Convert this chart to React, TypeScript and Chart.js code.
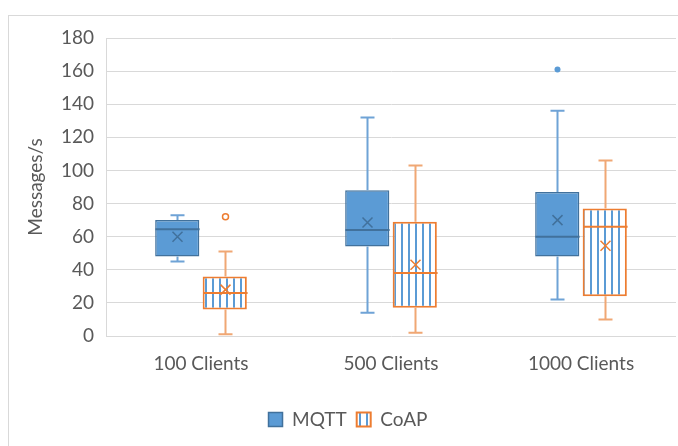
import React, { useEffect, useRef } from "react";
import { Chart, registerables } from "chart.js";
Chart.register(...registerables);

const categories = ["100 Clients", "500 Clients", "1000 Clients"];
const seriesNames = ["MQTT", "CoAP"];

const mqttMin = [45, 14, 22];
const mqttQ1 = [48, 54, 48];
const mqttMedian = [64.5, 64, 60];
const mqttQ3 = [70, 88, 87];
const mqttMax = [73, 132, 136];
const mqttMean = [60, 68.5, 70];
const mqttOutliers: number[][] = [[], [], [161]];

const coapMin = [1, 2, 10];
const coapQ1 = [16, 17, 24];
const coapMedian = [26, 38, 66];
const coapQ3 = [36, 69, 77];
const coapMax = [51, 103, 106];
const coapMean = [28, 43, 54.5];
const coapOutliers: number[][] = [[72], [], []];

const yMin = 0;
const yMax = 180;
const yStep = 20;

const BLUE = "#5B9BD5";
const BLUE_DARK = "#41719C";
const BLUE_WHISKER = "#6FA3D6";
const ORANGE = "#ED7D31";
const ORANGE_WHISKER = "#F0A774";
const FONT = "Lato, 'Open Sans', sans-serif";
const TEXT = "#595959";
const FS = 19;

const stats = [
  { min: mqttMin, max: mqttMax, med: mqttMedian, mean: mqttMean, out: mqttOutliers, line: BLUE_WHISKER, dark: BLUE_DARK, filled: true },
  { min: coapMin, max: coapMax, med: coapMedian, mean: coapMean, out: coapOutliers, line: ORANGE_WHISKER, dark: ORANGE, filled: false },
];

const boxPlugin = {
  id: "boxExtras",
  beforeDraw(chart: any) {
    const ctx = chart.ctx;
    ctx.save();
    ctx.strokeStyle = "#d9d9d9";
    ctx.lineWidth = 1;
    ctx.strokeRect(8.5, 15.5, 800, 600);
    ctx.restore();
  },
  afterDatasetsDraw(chart: any) {
    const ctx = chart.ctx;
    const ys = chart.scales.y;
    stats.forEach((s, d) => {
      const meta = chart.getDatasetMeta(d);
      meta.data.forEach((bar: any, i: number) => {
        const x = Math.round(bar.x) + 0.5;
        const w = bar.width;
        const top = ys.getPixelForValue((d === 0 ? mqttQ3 : coapQ3)[i]);
        const bot = ys.getPixelForValue((d === 0 ? mqttQ1 : coapQ1)[i]);
        const yMaxP = ys.getPixelForValue(s.max[i]);
        const yMinP = ys.getPixelForValue(s.min[i]);
        ctx.save();
        ctx.strokeStyle = s.line;
        ctx.lineWidth = 2;
        ctx.beginPath();
        ctx.moveTo(x, top);
        ctx.lineTo(x, yMaxP);
        ctx.moveTo(x - 7, yMaxP);
        ctx.lineTo(x + 7, yMaxP);
        ctx.moveTo(x, bot);
        ctx.lineTo(x, yMinP);
        ctx.moveTo(x - 7, yMinP);
        ctx.lineTo(x + 7, yMinP);
        ctx.stroke();
        const ym = ys.getPixelForValue(s.med[i]);
        ctx.strokeStyle = s.dark;
        ctx.lineWidth = 2;
        ctx.beginPath();
        ctx.moveTo(x - w / 2, ym);
        ctx.lineTo(x + w / 2, ym);
        ctx.stroke();
        const ymean = ys.getPixelForValue(s.mean[i]);
        ctx.lineWidth = 1.5;
        ctx.beginPath();
        ctx.moveTo(x - 5, ymean - 5);
        ctx.lineTo(x + 5, ymean + 5);
        ctx.moveTo(x + 5, ymean - 5);
        ctx.lineTo(x - 5, ymean + 5);
        ctx.stroke();
        s.out[i].forEach((v) => {
          const yo = ys.getPixelForValue(v);
          ctx.beginPath();
          ctx.arc(x, yo, 3, 0, Math.PI * 2);
          if (s.filled) {
            ctx.fillStyle = BLUE;
            ctx.fill();
          } else {
            ctx.strokeStyle = ORANGE;
            ctx.lineWidth = 1.5;
            ctx.stroke();
          }
        });
        ctx.restore();
      });
    });
  },
};

function makePattern(): CanvasPattern | string {
  const c = document.createElement("canvas");
  c.width = 7;
  c.height = 4;
  const g = c.getContext("2d");
  if (!g) return "#fff";
  g.fillStyle = "#ffffff";
  g.fillRect(0, 0, 7, 4);
  g.fillStyle = BLUE;
  g.fillRect(2, 0, 2, 4);
  return g.createPattern(c, "repeat") || "#fff";
}

export default function App() {
  const ref = useRef<HTMLCanvasElement | null>(null);
  useEffect(() => {
    if (!ref.current) return;
    const pattern = makePattern();
    const chart = new Chart(ref.current, {
      type: "bar",
      data: {
        labels: categories,
        datasets: [
          {
            label: seriesNames[0],
            data: mqttQ1.map((q, i) => [q, mqttQ3[i]]) as any,
            backgroundColor: BLUE,
            borderColor: BLUE_DARK,
            borderWidth: 1.5,
            borderSkipped: false,
            barPercentage: 0.93,
            categoryPercentage: 0.5,
          },
          {
            label: seriesNames[1],
            data: coapQ1.map((q, i) => [q, coapQ3[i]]) as any,
            backgroundColor: pattern as any,
            borderColor: ORANGE,
            borderWidth: 2,
            borderSkipped: false,
            barPercentage: 0.93,
            categoryPercentage: 0.5,
          },
        ],
      },
      options: {
        animation: false,
        responsive: false,
        maintainAspectRatio: false,
        layout: { padding: { left: 20, top: 38, right: 2, bottom: 7 } },
        plugins: {
          tooltip: { enabled: false },
          legend: {
            position: "bottom",
            labels: {
              font: { family: FONT, size: FS },
              color: TEXT,
              boxWidth: 14,
              boxHeight: 14,
              padding: 10,
            },
          },
        },
        scales: {
          x: {
            grid: { display: false },
            border: { display: false },
            ticks: { font: { family: FONT, size: FS }, color: TEXT, padding: 8 },
            afterFit: (s: any) => {
              s.height = 64;
            },
          },
          y: {
            min: yMin,
            max: yMax,
            ticks: { stepSize: yStep, font: { family: FONT, size: FS }, color: TEXT, padding: 12 },
            grid: { color: "#d9d9d9", drawTicks: false },
            border: { color: "#d9d9d9" },
            title: { display: true, text: "Messages/s", font: { family: FONT, size: FS }, color: TEXT, padding: 4 },
            afterFit: (s: any) => {
              s.width = 86;
            },
          },
        },
      },
      plugins: [boxPlugin],
    });
    return () => chart.destroy();
  }, []);
  return (
    <div style={{ position: "fixed", left: 0, top: 0, width: 678, height: 446, overflow: "hidden", background: "#fff" }}>
      <canvas ref={ref} width={678} height={446} style={{ width: 678, height: 446, display: "block" }} />
    </div>
  );
}
